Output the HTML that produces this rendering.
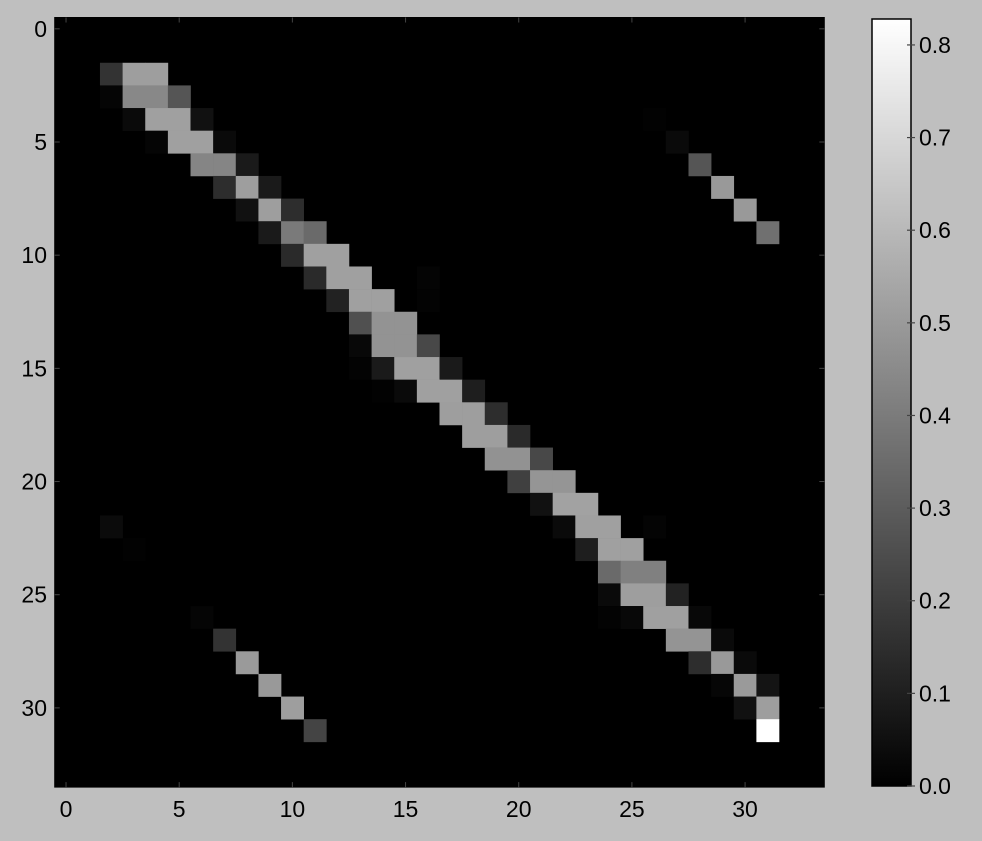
<!DOCTYPE html>
<html><head><meta charset="utf-8"><style>
html,body{margin:0;padding:0;background:#bfbfbf;}
svg{display:block;font-family:"Liberation Sans",sans-serif;}
</style></head><body>
<svg id="chart" width="982" height="841" viewBox="0 0 982 841" xmlns="http://www.w3.org/2000/svg">
<rect width="982" height="841" fill="#bfbfbf"/>
<defs><linearGradient id="cg" x1="0" y1="1" x2="0" y2="0"><stop offset="0" stop-color="#000"/><stop offset="1" stop-color="#fff"/></linearGradient></defs>
<g id="plot"></g>
<g id="cbar"></g>
</svg>
<script>
const cellRows = [2,2,2, 3,3,3,3, 4,4,4,4, 5,5,5,5, 6,6,6, 7,7,7, 8,8,8, 9,9,9, 10,10,10, 11,11,11,11, 12,12,12,12, 13,13,13, 14,14,14,14, 15,15,15,15,15, 16,16,16,16,16, 17,17,17, 18,18,18, 19,19,19, 20,20,20, 21,21,21, 22,22,22,22, 23,23,23, 24,24,24, 25,25,25,25, 26,26,26,26,26, 27,27,27, 28,28,28, 29,29,29, 30,30, 31, 22,23,26,27,28,29,30,31, 4,5,6,7,8,9];
const cellCols = [2,3,4, 2,3,4,5, 3,4,5,6, 4,5,6,7, 6,7,8, 7,8,9, 8,9,10, 9,10,11, 10,11,12, 11,12,13,16, 12,13,14,16, 13,14,15, 13,14,15,16, 13,14,15,16,17, 14,15,16,17,18, 17,18,19, 18,19,20, 19,20,21, 20,21,22, 21,22,23, 22,23,24,26, 23,24,25, 24,25,26, 24,25,26,27, 24,25,26,27,28, 27,28,29, 28,29,30, 29,30,31, 30,31, 31, 2,3,6,7,8,9,10,11, 26,27,28,29,30,31];
const cellValues = [0.165,0.512,0.512, 0.016,0.441,0.441,0.276, 0.032,0.519,0.519,0.055, 0.016,0.519,0.519,0.032, 0.431,0.431,0.084, 0.146,0.512,0.084, 0.055,0.512,0.146, 0.084,0.396,0.344, 0.136,0.519,0.519, 0.136,0.519,0.519,0.012, 0.11,0.519,0.519,0.01, 0.26,0.476,0.476, 0.026,0.476,0.476,0.233, 0.01,0.084,0.519,0.519,0.084, 0.006,0.032,0.519,0.519,0.097, 0.512,0.512,0.146, 0.512,0.512,0.136, 0.473,0.473,0.233, 0.208,0.483,0.483, 0.055,0.525,0.525, 0.032,0.519,0.519,0.013, 0.097,0.519,0.519, 0.344,0.415,0.415, 0.032,0.512,0.512,0.11, 0.01,0.026,0.519,0.519,0.026, 0.48,0.48,0.032, 0.146,0.496,0.032, 0.02,0.5,0.065, 0.055,0.512, 0.827, 0.035,0.008,0.016,0.165,0.5,0.496,0.512,0.22, 0.006,0.032,0.276,0.496,0.496,0.363];
const xTicks = [0,5,10,15,20,25,30];
const yTicks = [0,5,10,15,20,25,30];
const cbTicks = [0.0,0.1,0.2,0.3,0.4,0.5,0.6,0.7,0.8];
const nCells = 34;
const vmax = 0.828;

const NS="http://www.w3.org/2000/svg";
const L=54.7,T=17.5,S=769.6;
const cw=S/nCells;
const xs=v=>L+(v+0.5)*cw;
const ys=v=>T+(v+0.5)*cw;
const plot=document.getElementById('plot');
function mk(tag,attrs,parent){const e=document.createElementNS(NS,tag);for(const k in attrs)e.setAttribute(k,attrs[k]);parent.appendChild(e);return e;}
const bg=mk('rect',{x:L,y:T,width:S,height:S,fill:'#000'},plot);


for(let i=0;i<cellValues.length;i++){
  const g=Math.round(Math.min(1,cellValues[i]/vmax)*255);
  const r=mk('rect',{x:(xs(cellCols[i])-cw/2).toFixed(2),y:(ys(cellRows[i])-cw/2).toFixed(2),width:(cw+0.3).toFixed(2),height:(cw+0.3).toFixed(2),fill:`rgb(${g},${g},${g})`},plot);
  
  
}
mk('rect',{x:L,y:T,width:S,height:S,fill:'none',stroke:'#000','stroke-width':1},plot);
xTicks.forEach(t=>{
  const x=xs(t);
  mk('line',{x1:x,y1:T,x2:x,y2:T+5,stroke:'#444'},plot);
  mk('line',{x1:x,y1:T+S,x2:x,y2:T+S-5,stroke:'#444'},plot);
  const tx=mk('text',{x:x,y:817,'font-size':23,'text-anchor':'middle',fill:'#000'},plot);
  tx.textContent=t;
  
  
});
yTicks.forEach(t=>{
  const y=ys(t);
  mk('line',{x1:L,y1:y,x2:L+5,y2:y,stroke:'#444'},plot);
  mk('line',{x1:L+S,y1:y,x2:L+S-5,y2:y,stroke:'#444'},plot);
  const tx=mk('text',{x:47,y:y+8,'font-size':23,'text-anchor':'end',fill:'#000'},plot);
  tx.textContent=t;
  
  
});
const cb=document.getElementById('cbar');
const cbT=19,cbB=786,cbL=872,cbR=911;
const cbRect=mk('rect',{x:cbL,y:cbT,width:cbR-cbL,height:cbB-cbT,fill:'url(#cg)',stroke:'#000','stroke-width':1.5},cb);


cbTicks.forEach(t=>{
  const y=cbB-t/vmax*(cbB-cbT);
  mk('line',{x1:cbR-4,y1:y,x2:cbR+4,y2:y,stroke:'#444','stroke-width':1.2},cb);
  const tx=mk('text',{x:919,y:y+8,'font-size':23,fill:'#000'},cb);
  tx.textContent=t.toFixed(1);
  
  
});
</script>
</body></html>
